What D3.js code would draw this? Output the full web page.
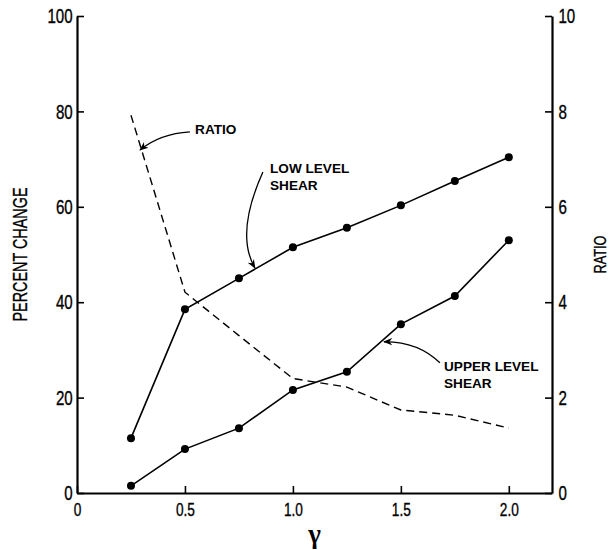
<!DOCTYPE html>
<html>
<head>
<meta charset="utf-8">
<script src="https://cdn.jsdelivr.net/npm/d3@7"></script>
<style>
  body { margin: 0; background: #fff; }
  .tick text, .title { font-family: "Liberation Sans", Arial, sans-serif; stroke: #000; stroke-width: 0.35px; }
  .note { font-family: "Liberation Sans", Arial, sans-serif; font-weight: bold; font-size: 13.6px; }
</style>
</head>
<body>
<svg width="609" height="550"></svg>
<script>
// gamma values and the three curves
const gamma = [0.25, 0.5, 0.75, 1.0, 1.25, 1.5, 1.75, 2.0];
const lowLevel = [11.5, 38.5, 45, 51.5, 55.6, 60.3, 65.4, 70.4];
const upperLevel = [1.5, 9.2, 13.6, 21.6, 25.4, 35.4, 41.3, 53.0];
const ratio = [7.92, 4.21, 3.3, 2.4, 2.22, 1.74, 1.63, 1.36];

const xTicks = [0, 0.5, 1.0, 1.5, 2.0];
const xTickLabels = ["0", "0.5", "1.0", "1.5", "2.0"];
const leftTicks = [0, 20, 40, 60, 80, 100];
const rightTicks = [0, 2, 4, 6, 8, 10];

const svg = d3.select("svg");
const margin = {top: 16, right: 57, bottom: 57, left: 77};
const width = 609, height = 550;
const narrow = "scale(0.72,1)";

const x = d3.scaleLinear().domain([0, 2.2]).range([margin.left, width - margin.right]);
const yL = d3.scaleLinear().domain([0, 100]).range([height - margin.bottom, margin.top]);
const yR = d3.scaleLinear().domain([0, 10]).range([height - margin.bottom, margin.top]);

// axes, ticks pointing inward
const gx = svg.append("g")
    .attr("transform", `translate(0,${yL(0)})`)
    .call(d3.axisBottom(x).tickValues(xTicks).tickFormat((d, i) => xTickLabels[i])
        .tickSize(-7).tickSizeOuter(0).tickPadding(10));
gx.selectAll(".tick text").attr("font-size", 19).attr("transform", narrow);

const gl = svg.append("g")
    .attr("transform", `translate(${x(0)},0)`)
    .call(d3.axisLeft(yL).tickValues(leftTicks).tickSize(-7).tickSizeOuter(0).tickPadding(6));
gl.selectAll(".tick text").attr("font-size", 21).attr("transform", narrow);

const gr = svg.append("g")
    .attr("transform", `translate(${x(2.2)},0)`)
    .call(d3.axisRight(yR).tickValues(rightTicks).tickSize(-7).tickSizeOuter(0).tickPadding(9));
gr.selectAll(".tick text").attr("font-size", 21).attr("transform", narrow);

svg.selectAll(".domain").attr("stroke-width", 2.2);
svg.selectAll(".tick line").attr("stroke-width", 1.6);

// axis titles
svg.append("text").attr("class", "title")
    .attr("transform", `translate(27,${yL(50)}) rotate(-90) ${narrow}`)
    .attr("text-anchor", "middle")
    .attr("font-size", 20)
    .text("PERCENT CHANGE");

svg.append("text").attr("class", "title")
    .attr("transform", `translate(606,${yL(50)}) rotate(-90) scale(0.8,1)`)
    .attr("text-anchor", "middle")
    .attr("font-size", 16)
    .text("RATIO");

svg.append("text")
    .attr("x", x(1.1)).attr("y", 543)
    .attr("text-anchor", "middle")
    .style("font-family", '"Liberation Serif", serif')
    .attr("font-weight", "bold")
    .attr("font-size", 27)
    .text("γ");

// data lines
const lineL = d3.line().x((d, i) => x(gamma[i])).y(d => yL(d));
const lineR = d3.line().x((d, i) => x(gamma[i])).y(d => yR(d));

svg.append("path").datum(ratio)
    .attr("d", lineR).attr("fill", "none").attr("stroke", "#000")
    .attr("stroke-width", 1.4).attr("stroke-dasharray", "8,5");

[lowLevel, upperLevel].forEach(series => {
    svg.append("path").datum(series)
        .attr("d", lineL).attr("fill", "none").attr("stroke", "#000").attr("stroke-width", 1.6);
    svg.append("g").selectAll("circle").data(series).join("circle")
        .attr("cx", (d, i) => x(gamma[i])).attr("cy", d => yL(d))
        .attr("r", 4).attr("fill", "#000");
});

// annotations (data coordinates on left axis)
svg.append("defs").append("marker")
    .attr("id", "arr").attr("viewBox", "0 0 10 10").attr("refX", 9).attr("refY", 5)
    .attr("markerWidth", 9).attr("markerHeight", 9).attr("orient", "auto")
    .attr("markerUnits", "userSpaceOnUse")
    .append("path").attr("d", "M0,1 L10,5 L0,9 L3,5 Z").attr("fill", "#000");

const notes = [
    {lines: ["RATIO"], tx: 0.547, ty: 75.2, arrow: [[0.523, 75.7], [0.383, 75.3], [0.292, 71.9]]},
    {lines: ["LOW LEVEL", "SHEAR"], tx: 0.894, ty: 67.1, arrow: [[0.861, 67.3], [0.732, 54.3], [0.824, 47.2]]},
    {lines: ["UPPER LEVEL", "SHEAR"], tx: 1.70, ty: 25.6, arrow: [[1.681, 27.3], [1.579, 31.8], [1.422, 31.7]]}
];

notes.forEach(n => {
    const t = svg.append("text").attr("class", "note").attr("x", x(n.tx)).attr("y", yL(n.ty));
    n.lines.forEach((s, i) => {
        t.append("tspan").attr("x", x(n.tx)).attr("dy", i === 0 ? 0 : 17).text(s);
    });
    const [a, c, b] = n.arrow;
    svg.append("path")
        .attr("d", `M${x(a[0])},${yL(a[1])} Q${x(c[0])},${yL(c[1])} ${x(b[0])},${yL(b[1])}`)
        .attr("fill", "none").attr("stroke", "#000").attr("stroke-width", 1.3)
        .attr("marker-end", "url(#arr)");
});
</script>
</body>
</html>
